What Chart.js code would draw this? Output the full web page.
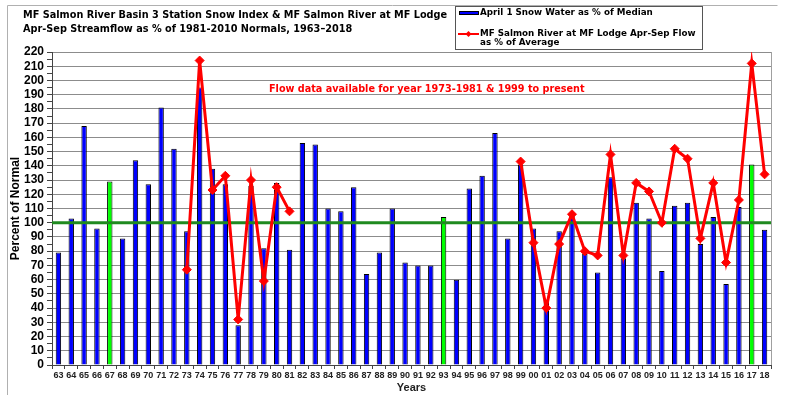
<!DOCTYPE html>
<html>
<head>
<meta charset="utf-8">
<script src="https://cdn.jsdelivr.net/npm/chart.js@4.4.1/dist/chart.umd.min.js"></script>
<style>
  html, body { margin: 0; padding: 0; background: #fff; }
  #wrap { width: 787px; height: 395px; position: relative; }
</style>
</head>
<body>
<div id="wrap"><canvas id="myChart" width="787" height="395"></canvas></div>
<script>
// two digit year labels 1963-2018
const years = ['63','64','65','66','67','68','69','70','71','72','73','74','75','76','77','78','79','80','81','82','83','84','85','86','87','88','89','90','91','92','93','94','95','96','97','98','99','00','01','02','03','04','05','06','07','08','09','10','11','12','13','14','15','16','17','18'];

// April 1 snow water, % of median
const snowPct = [79,103,168,96,129,89,144,127,181,152,94,195,138,127,28,126,82,128,81,156,155,110,108,125,64,79,110,72,70,70,104,60,124,133,163,89,141,96,46,94,107,78,65,132,75,114,103,66,112,114,85,104,57,111,141,95];

// MF Lodge Apr-Sep flow, % of average (only 1973-1981 and 1999 on)
const flowPct = [null,null,null,null,null,null,null,null,null,null,67,214,123,133,32,130,59,125,108,null,null,null,null,null,null,null,null,null,null,null,null,null,null,null,null,null,143,86,40,85,106,80,77,148,77,128,122,100,152,145,89,128,72,116,212,134];

// years whose bars are drawn in green
const greenYears = ['67','93','17'];

const yTicksMax = 220;
const normalLine = 100;

const titleLines = ['MF Salmon River Basin 3 Station Snow Index & MF Salmon River at MF Lodge',
                    'Apr-Sep Streamflow as % of 1981-2010 Normals, 1963\u20132018'];
const noteText = 'Flow data available for year 1973-1981 & 1999 to present';

// pick a font size so that text spans about the given width
function fitFont(ctx, text, width, base) {
  ctx.font = 'bold ' + base + 'px "DejaVu Sans"';
  const size = base * width / ctx.measureText(text).width;
  return 'bold ' + size.toFixed(2) + 'px "DejaVu Sans"';
}

const extras = {
  id: 'extras',
  afterDatasetDraw(chart, args) {
    // green 100% line sits over the bars but under the flow line
    if (args.meta.type !== 'bar') return;
    const {ctx, chartArea} = chart;
    const y = chart.scales.y.getPixelForValue(normalLine);
    ctx.save();
    ctx.strokeStyle = '#1f8a1f';
    ctx.lineWidth = 3;
    ctx.beginPath();
    ctx.moveTo(chartArea.left, y);
    ctx.lineTo(chartArea.right, y);
    ctx.stroke();
    ctx.restore();
  },
  afterDraw(chart) {
    const {ctx, chartArea} = chart;
    ctx.save();
    // outer frame
    ctx.strokeStyle = '#b0b0b0';
    ctx.lineWidth = 1;
    ctx.beginPath();
    ctx.moveTo(7.5, 395);
    ctx.lineTo(7.5, 5.5);
    ctx.lineTo(777.5, 5.5);
    ctx.stroke();
    // plot right edge
    ctx.strokeStyle = '#a0a0a0';
    ctx.beginPath();
    ctx.moveTo(chartArea.right + 0.5, chartArea.top);
    ctx.lineTo(chartArea.right + 0.5, chartArea.bottom);
    ctx.stroke();

    // title
    ctx.textBaseline = 'middle';
    ctx.textAlign = 'left';
    ctx.font = fitFont(ctx, titleLines[0], 424, 11);
    ctx.fillStyle = '#000';
    ctx.fillText(titleLines[0], 23, 15);
    ctx.fillText(titleLines[1], 23, 29);

    // note
    ctx.font = fitFont(ctx, noteText, 316, 10);
    ctx.fillStyle = '#ff0000';
    ctx.fillText(noteText, 269, 89);

    // legend
    ctx.fillStyle = '#fff';
    ctx.fillRect(455, 6, 247, 43);
    ctx.strokeStyle = '#555';
    ctx.lineWidth = 1;
    ctx.strokeRect(455.5, 6.5, 247, 43);
    ctx.fillStyle = '#0000ff';
    ctx.fillRect(459, 11, 20, 4);
    ctx.strokeStyle = '#000';
    ctx.strokeRect(459.5, 11.5, 19, 3);
    ctx.strokeStyle = '#ff0000';
    ctx.lineWidth = 2;
    ctx.beginPath();
    ctx.moveTo(458, 34);
    ctx.lineTo(479, 34);
    ctx.stroke();
    ctx.fillStyle = '#ff0000';
    ctx.beginPath();
    ctx.moveTo(468.5, 31);
    ctx.lineTo(471.5, 34);
    ctx.lineTo(468.5, 37);
    ctx.lineTo(465.5, 34);
    ctx.closePath();
    ctx.fill();
    ctx.fillStyle = '#000';
    ctx.font = fitFont(ctx, 'April 1 Snow Water as % of Median', 173, 9);
    ctx.fillText('April 1 Snow Water as % of Median', 480, 13);
    ctx.fillText('MF Salmon River at MF Lodge Apr-Sep Flow', 480, 34);
    ctx.fillText('as % of Average', 480, 43);
    ctx.restore();
  }
};

new Chart('myChart', {
  data: {
    labels: years,
    datasets: [{
      type: 'line',
      label: 'MF Salmon River at MF Lodge Apr-Sep Flow as % of Average',
      data: flowPct,
      order: 0,
      borderColor: '#ff0000',
      backgroundColor: '#ff0000',
      borderWidth: 3,
      pointStyle: 'rectRot',
      pointRadius: 4.5,
      pointBorderWidth: 1,
      spanGaps: false,
      tension: 0
    }, {
      type: 'bar',
      label: 'April 1 Snow Water as % of Median',
      data: snowPct,
      order: 1,
      backgroundColor: years.map(y => greenYears.includes(y) ? '#00ff00' : '#0000ff'),
      borderColor: '#000',
      borderWidth: 1,
      barPercentage: 0.42,
      categoryPercentage: 1
    }]
  },
  options: {
    responsive: false,
    animation: false,
    layout: { padding: { top: 52, left: 8, right: 16, bottom: 0 } },
    plugins: {
      legend: { display: false },
      tooltip: { enabled: false }
    },
    scales: {
      x: {
        afterFit: s => { s.height = 30; },
        grid: { offset: true, drawOnChartArea: false, tickLength: 4, color: '#444' },
        border: { color: '#444' },
        ticks: { autoSkip: false, maxRotation: 0, color: '#222', padding: 1, font: { family: 'Liberation Sans', weight: 'bold', size: 9 } },
        title: { display: true, text: 'Years', color: '#222', padding: 0, font: { family: 'Liberation Sans', weight: 'bold', size: 11 } }
      },
      y: {
        min: 0,
        max: yTicksMax,
        afterFit: s => { s.width = 44; },
        grid: {
          color: c => c.tick && c.tick.value % 10 === 0 ? '#8c8c8c' : 'rgba(0,0,0,0)',
          tickColor: '#444',
          tickLength: 5
        },
        border: { color: '#444' },
        ticks: {
          stepSize: 5,
          autoSkip: false,
          color: '#000',
          padding: 3,
          font: { family: 'Liberation Sans', weight: 'bold', size: 12 },
          callback: v => v % 10 === 0 ? v : ''
        },
        title: { display: true, text: 'Percent of Normal', color: '#000', padding: 0, font: { family: 'Liberation Sans', weight: 'bold', size: 12 } }
      }
    }
  },
  plugins: [extras]
});
</script>
</body>
</html>
